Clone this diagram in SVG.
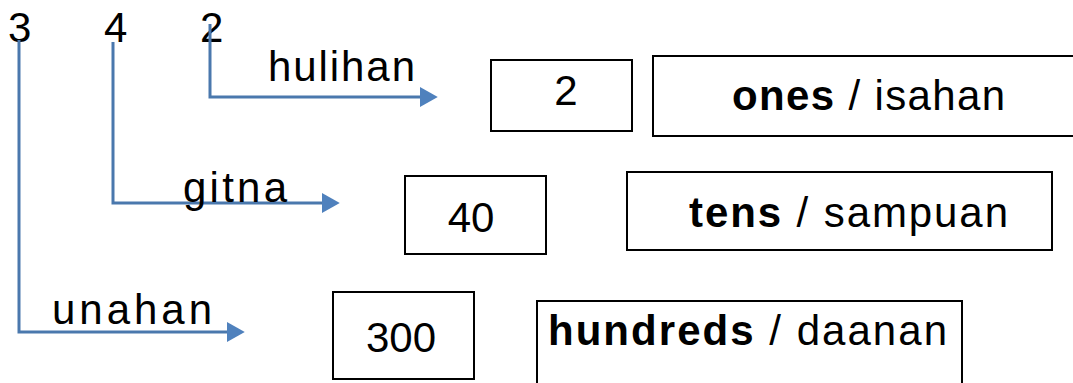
<svg xmlns="http://www.w3.org/2000/svg" width="1073" height="383" viewBox="0 0 1073 383">
<defs>
<style>
.t{font-family:"Liberation Sans",Arial,sans-serif;font-size:42px;fill:#000}
.b{font-weight:bold}
.box{fill:#fff;stroke:#000;stroke-width:2}
.conn{fill:none;stroke:#4a78ad;stroke-width:3}
</style>
<marker id="ah" markerUnits="userSpaceOnUse" markerWidth="18" markerHeight="20" refX="0" refY="9" orient="auto" viewBox="0 0 16 18">
<path d="M0,0 L16,9 L0,18 Z" fill="#4f81bd"/>
</marker>
</defs>
<rect width="1073" height="383" fill="#fff"/>
<g id="digits">
<text class="t" x="8" y="42">3</text>
<text class="t" x="104" y="42">4</text>
<text class="t" x="200" y="42">2</text>
</g>
<g id="connectors">
<path class="conn" d="M210,24 V97 H420" marker-end="url(#ah)"/>
<path class="conn" d="M113,42 V203 H322" marker-end="url(#ah)"/>
<path class="conn" d="M19,40 V332 H227" marker-end="url(#ah)"/>
</g>
<g id="labels">
<text class="t" x="268" y="81" textLength="147" lengthAdjust="spacing">hulihan</text>
<text class="t" x="183" y="202" textLength="104" lengthAdjust="spacing">gitna</text>
<text class="t" x="52" y="324" textLength="160" lengthAdjust="spacing">unahan</text>
</g>
<g id="box-2">
<rect class="box" x="491" y="60" width="141" height="71"/>
<text class="t" x="566" y="105" text-anchor="middle">2</text>
</g>
<g id="box-40">
<rect class="box" x="405" y="176" width="141" height="78"/>
<text class="t" x="471" y="232" text-anchor="middle">40</text>
</g>
<g id="box-300">
<rect class="box" x="333" y="292" width="141" height="87"/>
<text class="t" x="401" y="352" text-anchor="middle">300</text>
</g>
<g id="box-ones">
<rect class="box" x="653" y="56" width="430" height="80"/>
<text class="t" x="732" y="110" textLength="273" lengthAdjust="spacing"><tspan class="b">ones</tspan> / isahan</text>
</g>
<g id="box-tens">
<rect class="box" x="627" y="172" width="425" height="78"/>
<text class="t" x="689" y="227" textLength="319" lengthAdjust="spacing"><tspan class="b">tens</tspan> / sampuan</text>
</g>
<g id="box-hundreds">
<rect class="box" x="537" y="301" width="425" height="100"/>
<text class="t" x="548" y="345" textLength="399" lengthAdjust="spacing"><tspan class="b">hundreds</tspan> / daanan</text>
</g>
</svg>
